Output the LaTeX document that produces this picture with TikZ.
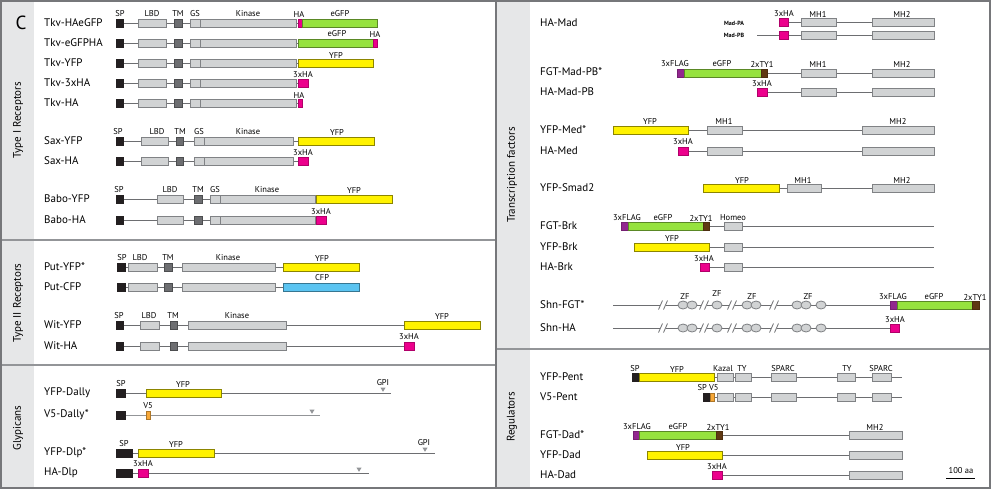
\documentclass[tikz,border=0pt]{standalone}
\usepackage{fontspec}
\setmainfont{PT Sans}
\usetikzlibrary{shapes.geometric}
\pgfdeclarelayer{back}
\pgfdeclarelayer{bg}
\pgfsetlayers{back,bg,main}
\definecolor{dgray}{HTML}{6D6E71}
\definecolor{lgray}{HTML}{D1D3D4}
\definecolor{bgray}{HTML}{808285}
\definecolor{spblack}{HTML}{231F20}
\definecolor{hamag}{HTML}{EC008C}
\definecolor{gfpgreen}{HTML}{96E23E}
\definecolor{yfpyel}{HTML}{FFF200}
\definecolor{cfpblue}{HTML}{5BC4F1}
\definecolor{flagpur}{HTML}{92278F}
\definecolor{tybrown}{HTML}{603913}
\definecolor{v5org}{HTML}{F7A839}
\definecolor{stripgray}{HTML}{E6E7E8}
\definecolor{framegray}{HTML}{939598}
\tikzset{
  dom/.style={rectangle, draw=bgray, fill=lgray, line width=0.8, inner sep=0, outer sep=0, minimum height=8},
  tmbox/.style={fill=dgray, draw=dgray!70!black},
  spbox/.style={fill=spblack, draw=spblack},
  habox/.style={fill=hamag, draw=hamag!75!black},
  gfpbox/.style={fill=gfpgreen, draw=gfpgreen!60!black},
  yfpbox/.style={fill=yfpyel, draw=yfpyel!55!black},
  cfpbox/.style={fill=cfpblue, draw=cfpblue!60!black},
  flagbox/.style={fill=flagpur, draw=flagpur!80!black},
  tybox/.style={fill=tybrown, draw=tybrown!80!black},
  v5box/.style={fill=v5org, draw=v5org!70!black},
  zfell/.style={ellipse, draw=bgray, fill=lgray, line width=0.8, inner sep=0, minimum width=10, minimum height=8},
  bbline/.style={draw=dgray, line width=0.9},
  dlab/.style={font=\fontsize{8.5}{9}\selectfont, inner sep=0},
  rowname/.style={anchor=west, font=\fontsize{11}{12}\selectfont, inner sep=0},
  sidelab/.style={rotate=90, font=\fontsize{11}{12}\selectfont, inner sep=0},
  isolab/.style={font=\bfseries\fontsize{6}{7}\selectfont, inner sep=0},
  sepline/.style={draw=framegray, line width=1.6},
}
\newcounter{lbc}
\newcommand\db[5]{\node[dom,#2,minimum width={(#4)-(#3)}] (#1) at ({((#3)+(#4))/2},#5) {};}
\newcommand\dl[3]{\stepcounter{lbc}\node[dlab] (lab\arabic{lbc}) at (#1,#2) {#3};}
\newcommand\bbl[2]{\begin{pgfonlayer}{bg}\draw[bbline] (#1) -- (#2);\end{pgfonlayer}}
\newcommand\gpi[2]{\fill[framegray] ({#1-2.6},{#2-5.5}) -- ({#1+2.6},{#2-5.5}) -- (#1,{#2-1.2}) -- cycle;}
\newcommand\brk[2]{\fill[white] ({#1-3},{#2-1.2}) rectangle ({#1+3},{#2+1.2});
  \draw[dgray, line width=0.8] ({#1-4.5},{#2+4.5}) -- ({#1-0.5},{#2-4.5}) ({#1+0.5},{#2+4.5}) -- ({#1+4.5},{#2-4.5});}
\newcommand\shnrow[2]{% prefix, y
  \coordinate (#1s) at (613,#2);
  \node[zfell] (#1z1) at (683,#2) {};
  \node[zfell] (#1z2) at (692,#2) {};
  \node[zfell] (#1z3) at (717,#2) {};
  \node[zfell] (#1z4) at (747,#2) {};
  \node[zfell] (#1z5) at (756,#2) {};
  \node[zfell] (#1z6) at (797,#2) {};
  \node[zfell] (#1z7) at (806,#2) {};
  \node[zfell] (#1z8) at (821,#2) {};
}
\begin{document}
\begin{tikzpicture}[x=1pt,y=-1pt]
\useasboundingbox (0,0) rectangle (992,490);
% panels
\begin{pgfonlayer}{back}
\fill[white] (0,0) rectangle (992,490);
\fill[stripgray] (1.5,1.5) rectangle (34,488);
\fill[stripgray] (496.5,1.5) rectangle (530,488);
\end{pgfonlayer}
\draw[sepline] (1,240) -- (496,240);
\draw[sepline] (1,365) -- (496,365);
\draw[sepline] (496,349) -- (990,349);
\draw[framegray!80!black, line width=1.1] (1,1) rectangle (990,488);
\draw[framegray!80!black, line width=1.1] (496,1) -- (496,488);
% side labels
\node[font=\fontsize{19}{20}\selectfont, inner sep=0] (cl) at (21,23) {C};
\node[sidelab] (s1) at (18,120) {Type I Receptors};
\node[sidelab] (s2) at (18,303) {Type II Receptors};
\node[sidelab] (s3) at (18,428) {Glypicans};
\node[sidelab] (s4) at (512,175) {Transcription factors};
\node[sidelab] (s5) at (512,417) {Regulators};

% ===== Type I: Tkv =====
\foreach \p/\y in {ta/23, tb/43, tc/63, td/83, te/103}{
  \db{\p sp}{spbox}{116}{123}{\y}
  \db{\p lbd}{}{138}{166}{\y}
  \db{\p tm}{tmbox}{174}{182}{\y}
  \db{\p gs}{}{190}{200}{\y}
  \db{\p k}{}{200}{296}{\y}
}
\node[rowname] (na) at (44,23) {Tkv-HAeGFP};
\node[rowname] (nb) at (44,43) {Tkv-eGFPHA};
\node[rowname] (nc) at (44,63) {Tkv-YFP};
\node[rowname] (nd) at (44,83) {Tkv-3xHA};
\node[rowname] (ne) at (44,103) {Tkv-HA};
\db{taha}{habox}{298}{302}{23}
\db{tag}{gfpbox}{302}{377}{23}
\db{tbg}{gfpbox}{298}{373}{43}
\db{tbha}{habox}{373}{377}{43}
\db{tcy}{yfpbox}{298}{373}{63}
\db{tdha}{habox}{298}{308}{83}
\db{teha}{habox}{298}{302}{103}
\bbl{tasp}{taha}
\bbl{tbsp}{tbg}
\bbl{tcsp}{tcy}
\bbl{tdsp}{tdha}
\bbl{tesp}{teha}
\dl{120}{14}{SP}\dl{152}{14}{LBD}\dl{178}{14}{TM}\dl{195}{14}{GS}\dl{248}{14}{Kinase}\dl{299}{14}{HA}\dl{340}{14}{eGFP}
\dl{337}{34}{eGFP}\dl{375}{34}{HA}
\dl{336}{55}{YFP}
\dl{303}{75}{3xHA}
\dl{299}{95}{HA}

% ===== Sax =====
\foreach \p/\y in {sa/141, sb/161}{
  \db{\p sp}{spbox}{116}{123}{\y}
  \db{\p lbd}{}{141}{168}{\y}
  \db{\p tm}{tmbox}{176}{183}{\y}
  \db{\p gs}{}{194}{204}{\y}
  \db{\p k}{}{204}{293}{\y}
}
\node[rowname] (nf) at (44,141) {Sax-YFP};
\node[rowname] (ng) at (44,161) {Sax-HA};
\db{say}{yfpbox}{298}{374}{141}
\db{sbha}{habox}{298}{308}{161}
\bbl{sasp}{say}
\bbl{sbsp}{sbha}
\dl{118}{132}{SP}\dl{157}{132}{LBD}\dl{180}{132}{TM}\dl{199}{132}{GS}\dl{248}{132}{Kinase}\dl{337}{132}{YFP}
\dl{303}{153}{3xHA}

% ===== Babo =====
\foreach \p/\y in {ba/199, bb/220}{
  \db{\p sp}{spbox}{116}{123}{\y}
  \db{\p lbd}{}{157}{183}{\y}
  \db{\p tm}{tmbox}{194}{202}{\y}
  \db{\p gs}{}{210}{220}{\y}
  \db{\p k}{}{220}{315}{\y}
}
\node[rowname] (nh) at (44,199) {Babo-YFP};
\node[rowname] (ni) at (44,220) {Babo-HA};
\db{bay}{yfpbox}{316}{392}{199}
\db{bbha}{habox}{316}{326}{220}
\bbl{basp}{bay}
\bbl{bbsp}{bbha}
\dl{119}{190}{SP}\dl{170}{190}{LBD}\dl{198}{190}{TM}\dl{215}{190}{GS}\dl{267}{190}{Kinase}\dl{354}{190}{YFP}
\dl{321}{212}{3xHA}

% ===== Type II: Put =====
\foreach \p/\y in {pa/267, pb/287}{
  \db{\p sp}{spbox}{117}{125}{\y}
  \db{\p lbd}{}{128}{157}{\y}
  \db{\p tm}{tmbox}{164}{172}{\y}
  \db{\p k}{}{182}{275}{\y}
}
\node[rowname] (nj) at (44,267) {Put-YFP*};
\node[rowname] (nk) at (44,287) {Put-CFP};
\db{pay}{yfpbox}{283}{359}{267}
\db{pbc}{cfpbox}{283}{359}{287}
\bbl{pasp}{pay}
\bbl{pbsp}{pbc}
\dl{122}{258}{SP}\dl{140}{258}{LBD}\dl{168}{258}{TM}\dl{228}{258}{Kinase}\dl{322}{258}{YFP}
\dl{322}{278}{CFP}

% ===== Wit =====
\foreach \p/\y in {wa/325, wb/346}{
  \db{\p sp}{spbox}{116}{123}{\y}
  \db{\p lbd}{}{140}{159}{\y}
  \db{\p tm}{tmbox}{170}{177}{\y}
  \db{\p k}{}{188}{286}{\y}
}
\node[rowname] (nl) at (44,325) {Wit-YFP};
\node[rowname] (nm) at (44,346) {Wit-HA};
\db{way}{yfpbox}{404}{480}{325}
\db{wbha}{habox}{404}{414}{346}
\bbl{wasp}{way}
\bbl{wbsp}{wbha}
\dl{119}{316}{SP}\dl{149}{316}{LBD}\dl{173}{316}{TM}\dl{237}{316}{Kinase}\dl{442}{316}{YFP}
\dl{409}{337}{3xHA}

% ===== Glypicans =====
\node[rowname] (nn) at (44,393) {YFP-Dally};
\node[rowname] (no) at (44,415) {V5-Dally*};
\node[rowname] (np) at (44,453) {YFP-Dlp*};
\node[rowname] (nq) at (44,473) {HA-Dlp};
\db{gasp}{spbox}{116}{125}{393}
\db{gay}{yfpbox}{146}{221}{393}
\coordinate (gae) at (391,393);
\bbl{gasp}{gae}
\gpi{383}{393}
\db{gbsp}{spbox}{116}{125}{415}
\db{gbv}{v5box}{146}{150}{415}
\coordinate (gbe) at (320,415);
\begin{pgfonlayer}{bg}\draw[bbline, draw=framegray] (gbsp) -- (gbe);\end{pgfonlayer}
\gpi{312}{415}
\db{gcsp}{spbox}{116}{132}{453}
\db{gcy}{yfpbox}{138}{214}{453}
\coordinate (gce) at (435,453);
\bbl{gcsp}{gce}
\gpi{425}{453}
\db{gdsp}{spbox}{116}{132}{473}
\db{gdha}{habox}{138}{148}{473}
\coordinate (gde) at (369,473);
\bbl{gdsp}{gde}
\gpi{359}{473}
\dl{121}{384}{SP}\dl{183}{384}{YFP}\dl{383}{383}{GPI}
\dl{148}{406}{V5}
\dl{124}{444}{SP}\dl{176}{444}{YFP}\dl{424}{443}{GPI}
\dl{143}{464}{3xHA}

% ===== Transcription factors: Mad =====
\node[rowname] (ra) at (540,23) {HA-Mad};
\node[isolab] (iso1) at (734,23) {Mad-PA};
\node[isolab] (iso2) at (734,35) {Mad-PB};
\db{maha}{habox}{779}{788}{22}
\db{mam1}{}{801}{836}{22}
\db{mam2}{}{872}{934}{22}
\bbl{maha}{mam2}
\coordinate (mbs) at (757,35);
\db{mbha}{habox}{779}{788}{35}
\db{mbm1}{}{801}{836}{35}
\db{mbm2}{}{872}{934}{35}
\bbl{mbs}{mbm2}
\dl{784}{14}{3xHA}\dl{818}{14}{MH1}\dl{902}{14}{MH2}

\node[rowname] (rb) at (540,72) {FGT-Mad-PB*};
\db{mcf}{flagbox}{677}{684}{73}
\db{mcg}{gfpbox}{684}{761}{73}
\db{mct}{tybox}{761}{767}{73}
\db{mcm1}{}{801}{836}{73}
\db{mcm2}{}{872}{934}{73}
\bbl{mct}{mcm2}
\dl{675}{64}{3xFLAG}\dl{722}{64}{eGFP}\dl{762}{64}{2xTY1}\dl{818}{64}{MH1}\dl{902}{64}{MH2}

\node[rowname] (rc) at (540,92) {HA-Mad-PB};
\db{mdha}{habox}{757}{767}{92}
\db{mdm1}{}{801}{836}{92}
\db{mdm2}{}{872}{934}{92}
\bbl{mdha}{mdm2}
\dl{762}{84}{3xHA}

% ===== Med =====
\node[rowname] (rd) at (540,130) {YFP-Med*};
\db{mey}{yfpbox}{613}{688}{130}
\db{mem1}{}{707}{742}{130}
\db{mem2}{}{862}{934}{130}
\bbl{mey}{mem2}
\dl{650}{121}{YFP}\dl{724}{121}{MH1}\dl{898}{121}{MH2}
\node[rowname] (re) at (540,151) {HA-Med};
\db{mfha}{habox}{678}{688}{151}
\db{mfm1}{}{707}{742}{151}
\db{mfm2}{}{862}{934}{151}
\bbl{mfha}{mfm2}
\dl{683}{142}{3xHA}

% ===== Smad2 =====
\node[rowname] (rf) at (540,188) {YFP-Smad2};
\db{smy}{yfpbox}{703}{779}{188}
\db{smm1}{}{787}{821}{188}
\db{smm2}{}{872}{934}{188}
\bbl{smy}{smm2}
\dl{742}{180}{YFP}\dl{803}{180}{MH1}\dl{902}{180}{MH2}

% ===== Brk =====
\node[rowname] (rg) at (540,226) {FGT-Brk};
\db{baf}{flagbox}{621}{628}{226}
\db{bag}{gfpbox}{628}{703}{226}
\db{bat}{tybox}{703}{709}{226}
\db{bah}{}{724}{742}{226}
\coordinate (bae) at (934,226);
\bbl{bat}{bae}
\dl{627}{218}{3xFLAG}\dl{663}{218}{eGFP}\dl{701}{218}{2xTY1}\dl{733}{218}{Homeo}
\node[rowname] (rh) at (540,247) {YFP-Brk};
\db{bby}{yfpbox}{634}{709}{247}
\db{bbh}{}{724}{742}{247}
\coordinate (bbe) at (934,247);
\bbl{bby}{bbe}
\dl{672}{238}{YFP}
\node[rowname] (ri) at (540,267) {HA-Brk};
\db{bcha}{habox}{700}{709}{267}
\db{bch}{}{724}{742}{267}
\coordinate (bce) at (934,267);
\bbl{bcha}{bce}
\dl{704}{259}{3xHA}

% ===== Shn =====
\node[rowname] (rj) at (540,305) {Shn-FGT*};
\node[rowname] (rk) at (540,328) {Shn-HA};
\shnrow{sha}{305}
\db{shaf}{flagbox}{890}{897}{305}
\db{shag}{gfpbox}{897}{972}{305}
\db{shat}{tybox}{972}{979}{305}
\bbl{shas}{shaf}
\shnrow{shb}{328}
\db{shbha}{habox}{890}{899}{328}
\bbl{shbs}{shbha}
\foreach \x in {663,704,732,774}{\brk{\x}{305}\brk{\x}{328}}
\dl{685}{297}{ZF}\dl{717}{294}{ZF}\dl{752}{297}{ZF}\dl{808}{297}{ZF}
\dl{893}{297}{3xFLAG}\dl{934}{297}{eGFP}\dl{975}{297}{2xTY1}
\dl{895}{320}{3xHA}

% ===== Regulators: Pent =====
\node[rowname] (rl) at (540,377) {YFP-Pent};
\db{pesp}{spbox}{632}{639}{377}
\db{pey}{yfpbox}{639}{714}{377}
\node[rowname] (rm) at (540,397) {V5-Pent};
\db{pfsp}{spbox}{703}{710}{397}
\db{pfv}{v5box}{710}{714}{397}
\foreach \p/\y in {pe/377, pf/397}{
  \db{\p ka}{}{717}{733}{\y}
  \db{\p t1}{}{735}{751}{\y}
  \db{\p s1}{}{771}{796}{\y}
  \db{\p t2}{}{837}{855}{\y}
  \db{\p s2}{}{872}{891}{\y}
  \coordinate (\p end) at (902,\y);
}
\bbl{pesp}{peend}
\bbl{pfsp}{pfend}
\dl{635}{369}{SP}\dl{677}{369}{YFP}\dl{723}{369}{Kazal}\dl{742}{369}{TY}\dl{783}{369}{SPARC}\dl{847}{369}{TY}\dl{881}{369}{SPARC}
\dl{708}{388}{SP V5}

% ===== Dad =====
\node[rowname] (rn) at (540,435) {FGT-Dad*};
\db{daf}{flagbox}{633}{639}{435}
\db{dag}{gfpbox}{639}{716}{435}
\db{dat}{tybox}{716}{722}{435}
\db{dam}{}{849}{902}{435}
\bbl{dat}{dam}
\dl{637}{427}{3xFLAG}\dl{678}{427}{eGFP}\dl{718}{427}{2xTY1}\dl{875}{427}{MH2}
\node[rowname] (ro) at (540,455) {YFP-Dad};
\db{dby}{yfpbox}{647}{722}{455}
\db{dbm}{}{849}{902}{455}
\bbl{dby}{dbm}
\dl{683}{447}{YFP}
\node[rowname] (rp) at (540,475) {HA-Dad};
\db{dcha}{habox}{712}{722}{475}
\db{dcm}{}{849}{902}{475}
\bbl{dcha}{dcm}
\dl{717}{467}{3xHA}

% scale bar
\coordinate (sbl) at (946,478);
\coordinate (sbr) at (975,478);
\draw[black, line width=1] (sbl) -- (sbr);
\dl{961}{471}{100 aa}
\end{tikzpicture}
\end{document}
